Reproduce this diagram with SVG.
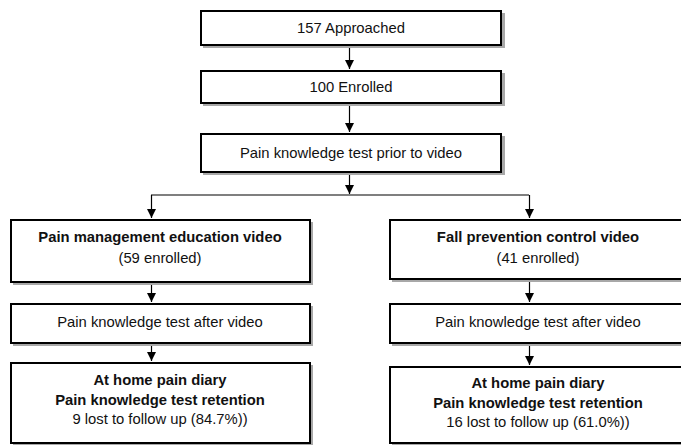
<svg xmlns="http://www.w3.org/2000/svg" width="681" height="445" viewBox="0 0 681 445">
<defs>
<marker id="ah" markerUnits="userSpaceOnUse" markerWidth="10" markerHeight="11" refX="9" refY="4.5" orient="auto">
<path d="M0,0 L9,4.5 L0,9 Z" fill="#000"/>
</marker>
<style>
.box{fill:#fff;stroke:#000;stroke-width:2}
.sh{fill:#a8a8a8}
.t{font-family:"Liberation Sans",Arial,sans-serif;font-size:14.8px;fill:#111;text-anchor:middle}
.b{font-weight:bold}
.c{stroke:#000;stroke-width:1.2;fill:none}
.ca{stroke:#000;stroke-width:1.2;fill:none;marker-end:url(#ah)}
</style>
</defs>
<rect width="681" height="445" fill="#fff"/>
<g id="connectors">
<line class="ca" x1="349.5" y1="46" x2="349.5" y2="69"/>
<line class="ca" x1="349.5" y1="104" x2="349.5" y2="132"/>
<line class="ca" x1="349.5" y1="173" x2="349.5" y2="194"/>
<line class="c" x1="151" y1="195" x2="529" y2="195"/>
<line class="ca" x1="151.5" y1="195" x2="151.5" y2="218"/>
<line class="ca" x1="529.5" y1="195" x2="529.5" y2="218"/>
<line class="ca" x1="151.5" y1="283" x2="151.5" y2="302"/>
<line class="ca" x1="151.5" y1="344" x2="151.5" y2="361"/>
<line class="ca" x1="529.5" y1="280" x2="529.5" y2="302"/>
<line class="ca" x1="529.5" y1="344" x2="529.5" y2="365"/>
</g>
<g id="approached">
<rect class="sh" x="203" y="13" width="302" height="35"/>
<rect class="box" x="201" y="11" width="300" height="34"/>
<text class="t" x="351" y="33">157 Approached</text>
</g>
<g id="enrolled">
<rect class="sh" x="203" y="73" width="302" height="33"/>
<rect class="box" x="201" y="71" width="300" height="32"/>
<text class="t" x="351" y="92">100 Enrolled</text>
</g>
<g id="pretest">
<rect class="sh" x="203" y="136" width="302" height="39"/>
<rect class="box" x="201" y="134" width="300" height="38"/>
<text class="t" x="351" y="158">Pain knowledge test prior to video</text>
</g>
<g id="pain-video">
<rect class="sh" x="13" y="222" width="300" height="63"/>
<rect class="box" x="11" y="220" width="299" height="62"/>
<text class="t b" x="160" y="242">Pain management education video</text>
<text class="t" x="160" y="263">(59 enrolled)</text>
</g>
<g id="fall-video">
<rect class="sh" x="392" y="222" width="300" height="60"/>
<rect class="box" x="390" y="220" width="298" height="59"/>
<text class="t b" x="538" y="242">Fall prevention control video</text>
<text class="t" x="538" y="263">(41 enrolled)</text>
</g>
<g id="left-posttest">
<rect class="sh" x="13" y="306" width="300" height="40"/>
<rect class="box" x="11" y="304" width="299" height="39"/>
<text class="t" x="160" y="327">Pain knowledge test after video</text>
</g>
<g id="right-posttest">
<rect class="sh" x="392" y="306" width="300" height="40"/>
<rect class="box" x="390" y="304" width="298" height="39"/>
<text class="t" x="538" y="327">Pain knowledge test after video</text>
</g>
<g id="left-diary">
<rect class="sh" x="13" y="365" width="300" height="82"/>
<rect class="box" x="11" y="363" width="299" height="80"/>
<text class="t b" x="160" y="385">At home pain diary</text>
<text class="t b" x="160" y="405">Pain knowledge test retention</text>
<text class="t" x="160" y="424">9 lost to follow up (84.7%))</text>
</g>
<g id="right-diary">
<rect class="sh" x="392" y="369" width="300" height="78"/>
<rect class="box" x="390" y="367" width="298" height="76"/>
<text class="t b" x="538" y="388">At home pain diary</text>
<text class="t b" x="538" y="408">Pain knowledge test retention</text>
<text class="t" x="538" y="427">16 lost to follow up (61.0%))</text>
</g>
</svg>
